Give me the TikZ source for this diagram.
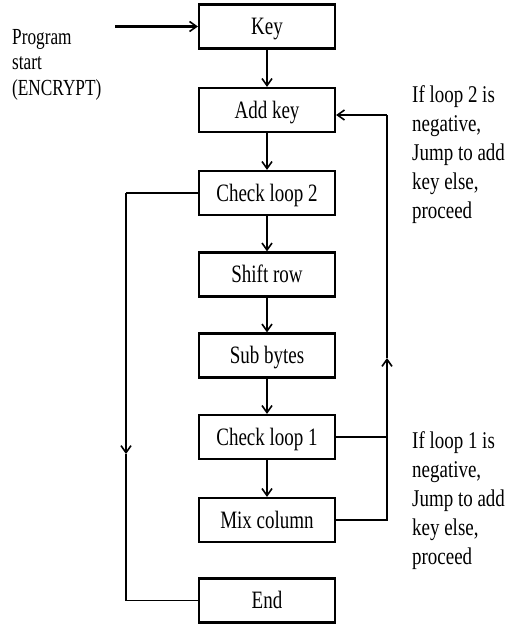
\documentclass[tikz,border=0pt]{standalone}
\usepackage{fontspec}
\setmainfont{Liberation Serif}
\newfontfamily\boxfont{Liberation Serif}[FakeStretch=0.76]
\newfontfamily\sidefont{Liberation Serif}[FakeStretch=0.79]
\newfontfamily\startfont{Liberation Serif}[FakeStretch=0.75]
\usetikzlibrary{arrows.meta}
\begin{document}
\begin{tikzpicture}[x=1pt,y=-1pt,
  blk/.style={draw,line width=2.2pt,minimum width=136pt,minimum height=44pt,inner sep=0pt,text height=20pt,text depth=4pt,font=\boxfont\fontsize{25}{28}\selectfont},
  conn/.style={line width=1.6pt},
  arr/.style={conn,-{Straight Barb[length=7pt,width=10pt,line width=1.6pt]}},
  side/.style={anchor=north west,align=left,inner sep=0pt,font=\sidefont\fontsize{24}{29}\selectfont}]
\useasboundingbox (0,0) rectangle (511,624);
\node[blk] (key) at (267,26.5) {Key};
\node[blk] (addkey) at (267,110) {Add key};
\node[blk] (cl2) at (267,193) {Check loop 2};
\node[blk] (shift) at (267,274.5) {Shift row};
\node[blk] (sub) at (267,355.5) {Sub bytes};
\node[blk] (cl1) at (267,437) {Check loop 1};
\node[blk] (mix) at (267,520) {Mix column};
\node[blk] (end) at (267,600.5) {End};
% start
\node[side,font=\startfont\fontsize{23}{25.5}\selectfont] (start) at (12,29) {Program\\start\\(ENCRYPT)};
\coordinate (s0) at (115,26.5);
\draw[arr,line width=2.4pt] (s0) -- (key.west);
% main chain
\draw[arr] (key) -- (addkey);
\draw[arr] (addkey) -- (cl2);
\draw[arr] (cl2) -- (shift);
\draw[arr] (shift) -- (sub);
\draw[arr] (sub) -- (cl1);
\draw[arr] (cl1) -- (mix);
% left loop
\coordinate (l1) at (126,193);
\coordinate (l2) at (126,454);
\coordinate (l3) at (126,600.5);
\draw[conn] (cl2.west) -- (l1);
\draw[arr] (l1) -- (l2);
\draw[conn] (l2) -- (l3) -- (end.west);
% right loop
\coordinate (r1) at (387,520);
\coordinate (r2) at (387,437);
\coordinate (r3) at (387,358);
\coordinate (r4) at (387,115);
\draw[conn] (mix.east) -- (r1) -- (r2);
\draw[conn] (cl1.east) -- (r2);
\draw[arr] (r2) -- (r3);
\draw[conn] (r3) -- (r4);
\draw[arr] (r4) -- (r4 -| addkey.east);
% side texts
\node[side] (t2) at (412,85) {If loop 2 is\\negative,\\Jump to add\\key else,\\proceed};
\node[side] (t1) at (412,431) {If loop 1 is\\negative,\\Jump to add\\key else,\\proceed};
\end{tikzpicture}
\end{document}
